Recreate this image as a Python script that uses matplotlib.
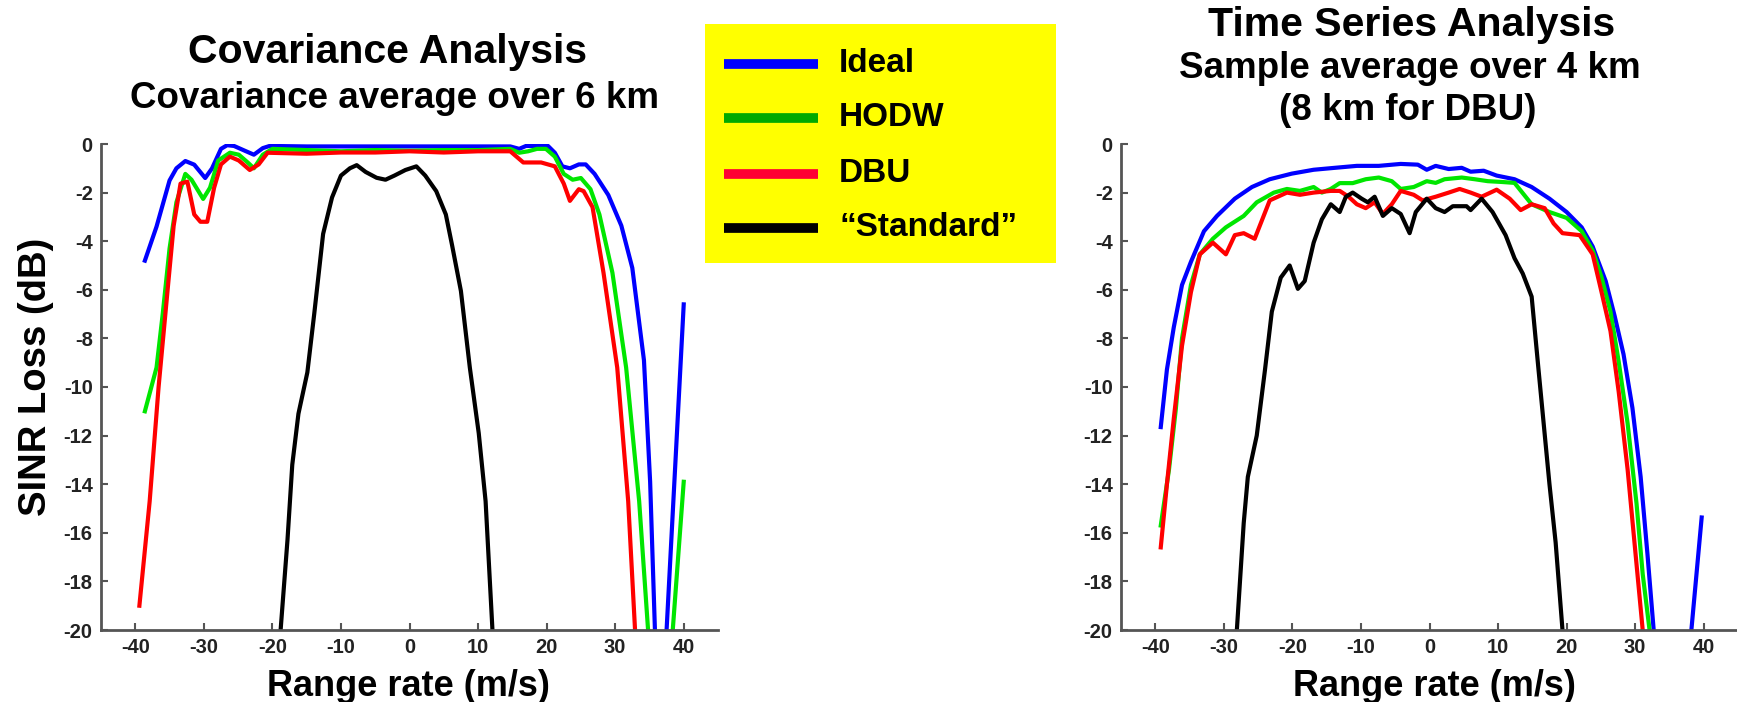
import matplotlib
matplotlib.use("Agg")
import matplotlib.pyplot as plt
from matplotlib.lines import Line2D
from matplotlib.patches import Rectangle

# ---------------- data ----------------
x_ticks = [-40, -30, -20, -10, 0, 10, 20, 30, 40]
y_ticks = [0, -2, -4, -6, -8, -10, -12, -14, -16, -18, -20]

legend_labels = ["Ideal", "HODW", "DBU", "\u201cStandard\u201d"]

# Covariance analysis (left panel)
cov_ideal_x = [-38.6, -36.9, -35.0, -34.0, -32.7, -31.4, -29.8, -28.8, -27.5, -26.6, -25.6, -24.0,
               -22.7, -21.4, -20.4, -15.0, -10.0, -5.0, 0.0, 5.0, 10.0, 14.7, 16.0, 17.0, 18.6,
               20.2, 21.2, 22.3, 23.4, 24.7, 25.7, 27.0, 29.0, 30.9, 32.5, 34.2, 35.1, 35.8, 36.6,
               37.5, 40.0]
cov_ideal_y = [-4.8, -3.4, -1.5, -1.0, -0.7, -0.85, -1.4, -1.0, -0.2, -0.05, -0.08, -0.28,
               -0.44, -0.17, -0.08, -0.1, -0.1, -0.1, -0.1, -0.1, -0.1, -0.1, -0.2, -0.08, -0.08,
               -0.08, -0.36, -0.92, -1.0, -0.84, -0.84, -1.23, -2.1, -3.36, -5.1, -8.9, -13.9, -20.0,
               -26.0, -20.0, -6.6]

cov_hodw_x = [-38.6, -36.9, -36.0, -35.0, -34.0, -32.7, -31.8, -30.1, -29.1, -27.9, -26.2, -24.9,
              -23.6, -22.7, -21.4, -20.0, -15.0, -10.0, -5.0, 0.0, 5.0, 10.0, 14.7, 16.0, 17.3,
              18.6, 19.9, 21.2, 22.5, 23.8, 25.0, 26.4, 27.7, 29.6, 31.6, 33.5, 34.8, 36.6, 38.4,
              40.0]
cov_hodw_y = [-11.0, -9.2, -7.0, -4.3, -2.4, -1.23, -1.47, -2.26, -1.8, -0.68, -0.36, -0.44,
              -0.76, -1.0, -0.44, -0.2, -0.25, -0.3, -0.25, -0.28, -0.25, -0.25, -0.2, -0.36, -0.3,
              -0.2, -0.2, -0.52, -1.23, -1.47, -1.4, -1.86, -2.9, -5.3, -9.2, -14.7, -20.0, -27.0,
              -20.0, -13.9]

cov_dbu_x = [-39.4, -37.9, -36.6, -35.3, -34.4, -33.4, -32.4, -31.4, -30.5, -29.5, -28.5, -27.5,
             -26.2, -24.9, -23.3, -22.0, -20.7, -15.0, -10.0, -5.0, 0.0, 5.0, 10.0, 14.7, 16.6,
             17.9, 19.2, 21.2, 22.5, 23.4, 24.7, 25.4, 26.7, 28.3, 30.3, 31.9, 32.9, 33.5]
cov_dbu_y = [-19.0, -14.7, -10.0, -6.05, -3.36, -1.63, -1.55, -2.9, -3.2, -3.2, -1.8, -0.84,
             -0.52, -0.68, -1.07, -0.84, -0.36, -0.4, -0.35, -0.35, -0.3, -0.35, -0.3, -0.3, -0.76,
             -0.76, -0.76, -0.92, -1.63, -2.34, -1.86, -1.94, -2.6, -5.3, -9.2, -14.7, -20.0, -24.0]

cov_std_x = [-19.2, -18.8, -17.8, -17.1, -16.2, -14.9, -13.9, -12.6, -11.3, -10.0, -8.7, -7.7,
             -6.4, -4.8, -3.5, -2.2, -0.6, 1.0, 2.3, 3.9, 5.3, 6.2, 7.5, 8.8, 10.1, 11.1, 12.1, 12.4]
cov_std_y = [-24.0, -20.0, -16.3, -13.2, -11.1, -9.4, -7.0, -3.7, -2.2, -1.3, -1.0, -0.87,
             -1.15, -1.39, -1.47, -1.3, -1.07, -0.92, -1.3, -1.94, -2.9, -4.15, -6.05, -9.2, -11.9,
             -14.7, -20.0, -24.0]

# Time series analysis (right panel)
ts_ideal_x = [-39.2, -38.3, -37.3, -36.1, -34.8, -32.9, -31.0, -28.4, -25.9, -23.3, -20.1, -16.9,
              -13.8, -10.6, -7.4, -4.2, -1.7, -0.4, 0.9, 2.8, 4.7, 6.0, 7.9, 9.8, 12.4, 14.9, 17.5,
              20.0, 22.2, 23.8, 25.7, 27.0, 28.3, 29.6, 30.8, 31.8, 32.7, 35.5, 38.2, 39.7]
ts_ideal_y = [-11.65, -9.28, -7.54, -5.8, -4.85, -3.59, -2.96, -2.25, -1.77, -1.45, -1.22, -1.06,
              -0.98, -0.9, -0.9, -0.82, -0.85, -1.06, -0.9, -1.03, -0.98, -1.14, -1.1, -1.3, -1.45,
              -1.77, -2.25, -2.8, -3.43, -4.22, -5.64, -7.07, -8.65, -10.86, -13.7, -16.9, -20.0,
              -32.0, -20.0, -15.37]

ts_hodw_x = [-39.2, -38.0, -37.0, -36.1, -34.8, -33.5, -31.6, -29.7, -27.1, -25.2, -22.7, -20.8,
             -18.9, -16.9, -15.7, -14.4, -13.1, -11.2, -9.3, -7.4, -5.5, -4.2, -2.3, -0.4, 0.9, 2.2,
             4.7, 6.6, 8.5, 10.4, 12.4, 14.9, 17.5, 20.0, 22.2, 23.8, 25.1, 26.4, 27.6, 28.9, 30.2,
             31.1, 32.1, 32.6]
ts_hodw_y = [-15.7, -13.4, -10.9, -8.0, -5.8, -4.54, -3.9, -3.43, -2.96, -2.4, -2.0, -1.85,
             -1.93, -1.77, -2.0, -1.85, -1.61, -1.61, -1.45, -1.38, -1.53, -1.85, -1.77, -1.53, -1.6,
             -1.45, -1.38, -1.45, -1.53, -1.56, -1.6, -2.48, -2.8, -3.04, -3.59, -4.38, -5.49, -6.9,
             -8.96, -11.5, -14.8, -17.7, -20.0, -23.0]

ts_dbu_x = [-39.2, -38.3, -37.3, -36.1, -34.8, -33.5, -31.6, -29.7, -28.4, -27.1, -25.5, -23.3,
            -20.8, -18.9, -16.9, -14.4, -13.1, -11.8, -10.6, -9.3, -8.0, -6.8, -5.5, -4.2, -2.3,
            -1.0, 0.9, 2.8, 4.4, 6.0, 7.6, 9.8, 11.7, 13.3, 14.9, 16.8, 18.1, 19.4, 21.9, 23.8,
            25.1, 26.4, 27.6, 28.9, 29.9, 31.1, 31.6]
ts_dbu_y = [-16.6, -14.0, -11.3, -8.3, -6.1, -4.54, -4.06, -4.54, -3.75, -3.67, -3.9, -2.32,
            -2.0, -2.09, -2.0, -1.93, -1.93, -2.17, -2.48, -2.64, -2.4, -2.88, -2.48, -1.93, -2.09,
            -2.32, -2.17, -2.0, -1.85, -2.0, -2.17, -1.88, -2.25, -2.72, -2.48, -2.64, -3.27,
            -3.67, -3.75, -4.54, -6.1, -7.7, -10.2, -13.4, -16.4, -20.0, -23.0]

ts_std_x = [-28.4, -28.1, -27.1, -26.5, -25.2, -24.0, -23.0, -21.7, -20.4, -19.2, -18.2, -16.9,
            -15.7, -14.4, -13.1, -12.2, -11.2, -9.9, -9.0, -8.0, -6.8, -5.5, -4.2, -2.9, -2.0,
            -0.4, 0.9, 2.2, 3.4, 5.4, 6.0, 7.6, 9.2, 11.1, 12.4, 13.6, 14.9, 15.9, 17.5, 18.4, 19.4,
            19.6]
ts_std_y = [-24.0, -20.0, -15.6, -13.7, -12.0, -9.3, -6.9, -5.5, -5.0, -5.96, -5.64, -4.06,
            -3.1, -2.48, -2.8, -2.17, -2.0, -2.25, -2.4, -2.17, -2.96, -2.64, -2.88, -3.67, -2.8,
            -2.25, -2.64, -2.8, -2.56, -2.56, -2.72, -2.25, -2.8, -3.75, -4.7, -5.33, -6.28, -9.28,
            -14.0, -16.4, -20.0, -23.0]

# ---------------- style ----------------
plt.rcParams['font.family'] = ['Liberation Sans', 'DejaVu Sans']
plt.rcParams['font.weight'] = 'bold'

W, H = 1737, 702
fig = plt.figure(figsize=(W / 100, H / 100), dpi=100)

plot_colors = ["#0000ff", "#00e600", "#ff0000", "#000000"]
legend_colors = ["#0000ff", "#00aa00", "#ff0033", "#000000"]
spine_color = "#555555"


def px(x, y):
    return x / W, 1 - y / H


def setup(ax):
    ax.set_xlim(-45, 45)
    ax.set_ylim(-20, 0)
    ax.set_xticks(x_ticks)
    ax.set_yticks(y_ticks)
    ax.set_xticklabels([str(v) for v in x_ticks])
    ax.set_yticklabels([str(v) for v in y_ticks])
    for s in ("top", "right"):
        ax.spines[s].set_visible(False)
    for s in ("left", "bottom"):
        ax.spines[s].set_color(spine_color)
        ax.spines[s].set_linewidth(2.0)
    ax.tick_params(direction="in", length=5, width=1.5, color=spine_color,
                   labelsize=14.5, labelcolor="#222222", pad=6)
    for lab in ax.get_xticklabels() + ax.get_yticklabels():
        lab.set_fontweight("bold")
    ax.set_facecolor("white")


ax1 = fig.add_axes([101 / W, 1 - 630 / H, 617 / W, 486 / H])
ax2 = fig.add_axes([1121 / W, 1 - 630 / H, 617 / W, 486 / H])
setup(ax1)
setup(ax2)

lw = 3.0
for (xs, ys), c in zip([(cov_ideal_x, cov_ideal_y), (cov_hodw_x, cov_hodw_y),
                        (cov_dbu_x, cov_dbu_y), (cov_std_x, cov_std_y)], plot_colors):
    ax1.plot(xs, ys, color=c, lw=lw, solid_joinstyle="round")
for (xs, ys), c in zip([(ts_ideal_x, ts_ideal_y), (ts_hodw_x, ts_hodw_y),
                        (ts_dbu_x, ts_dbu_y), (ts_std_x, ts_std_y)], plot_colors):
    ax2.plot(xs, ys, color=c, lw=lw, solid_joinstyle="round")

# ---------------- texts ----------------
def ftext(x, y, s, size, **kw):
    fx, fy = px(x, y)
    fig.text(fx, fy, s, fontsize=size, fontweight="bold", ha="center", va="center", **kw)


ftext(388, 52, "Covariance Analysis", 29.5)
ftext(394, 99, "Covariance average over 6 km", 26.5)
ftext(1412, 25, "Time Series Analysis", 29.5)
ftext(1410, 68, "Sample average over 4 km", 26.5)
ftext(1408, 110, "(8 km for DBU)", 26.5)
ftext(36, 377, "SINR Loss (dB)", 27.5, rotation=90)
ftext(408, 687, "Range rate (m/s)", 26)
ftext(1434, 687, "Range rate (m/s)", 26)

# ---------------- legend box ----------------
x0, y0 = px(705, 263)
x1, y1 = px(1056, 24)
fig.patches.append(Rectangle((x0, y0), x1 - x0, y1 - y0, transform=fig.transFigure,
                             facecolor="#ffff00", edgecolor="none", zorder=0))
rows = [64, 118, 174, 228]
for lab, c, ry in zip(legend_labels, legend_colors, rows):
    lx0, ly = px(724, ry)
    lx1, _ = px(818, ry)
    fig.lines.append(Line2D([lx0, lx1], [ly, ly], transform=fig.transFigure,
                            color=c, lw=7, solid_capstyle="butt"))
    tx, ty = px(839, ry)
    fig.text(tx, ty, lab, fontsize=24, fontweight="bold", ha="left", va="center")

fig.savefig("out.png", dpi=100, facecolor="white")
